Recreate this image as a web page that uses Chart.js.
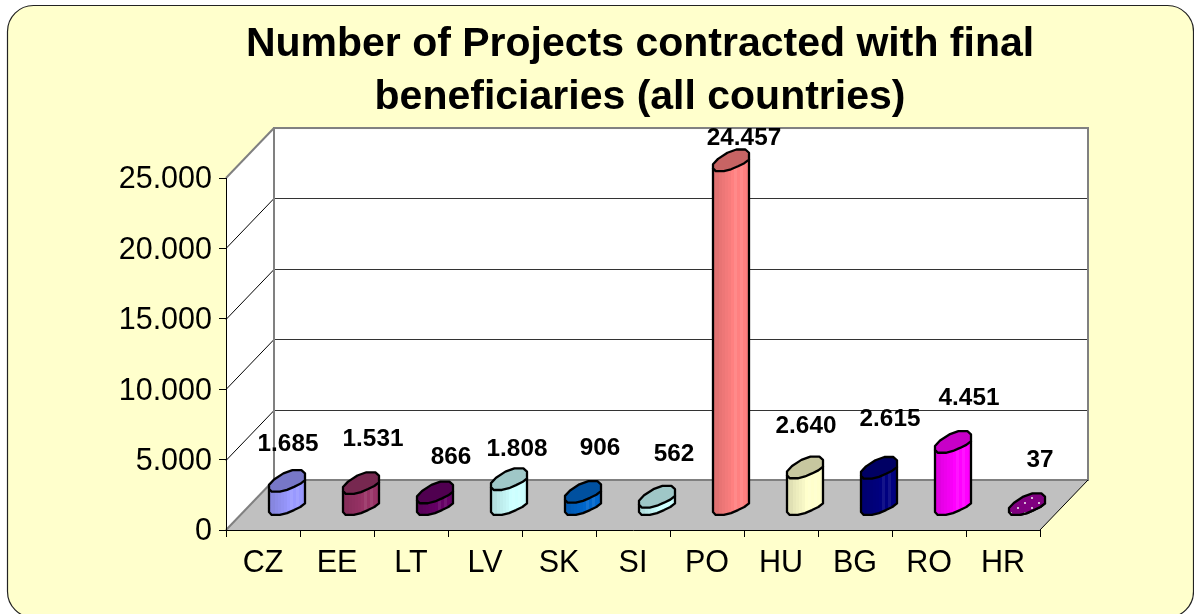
<!DOCTYPE html>
<html>
<head>
<meta charset="utf-8">
<title>Number of Projects</title>
<script src="https://cdn.jsdelivr.net/npm/chart.js@4/dist/chart.umd.min.js"></script>
<style>
  html, body { margin: 0; padding: 0; background: #fff; overflow: hidden; }
  canvas { display: block; }
</style>
</head>
<body>
<canvas id="chart" width="1194" height="614"></canvas>
<script>
const countries = ['CZ','EE','LT','LV','SK','SI','PO','HU','BG','RO','HR'];
const projects = [1685,1531,866,1808,906,562,24457,2640,2615,4451,37];
const barColors = ['#9999FF','#993366','#660066','#CCFFFF','#0066CC','#CCFFFF','#FF8080','#FFFFCC','#000080','#FF00FF','#800080'];
const titleLines = ['Number of Projects contracted with final','beneficiaries (all countries)'];
const yTicks = [0,5000,10000,15000,20000,25000];

// labels were moved by hand in the original, so they sit at their own offset from the bar top
const labelDx = [25,36,40,32,41,41,37,25,35,40,37];
const labelDy = [-62,-69,-61,-55,-69,-68,-47,-67,-74,-69,-69];

const FONT = '"Liberation Sans", Arial, sans-serif';
const DEPTH_X = 48, DEPTH_Y = 50;
const facets = [.88,.88,.91,.93,.95,.97,1,1.08,1,1.08,1,.98];
// outline of a cylinder end as seen in perspective, in half bar widths.
// points 0..6 are the lower edge from the right side to the left side
const capShape = [[1,-.06],[.74,.14],[.39,.31],[0,.48],[-.4,.58],[-.85,.58],[-1,.42],[-1,.2],[-.72,-.1],[-.2,-.44],[.3,-.62],[.8,-.62],[1,-.44]];

const fmt = v => Number(v).toLocaleString('de-DE');

function shade(hex, k){
  const n = parseInt(hex.slice(1),16);
  return 'rgb(' + [n>>16, (n>>8)&255, n&255].map(c => {
    const out = k <= 1 ? c*k : c + (255-c)*(k-1);
    return Math.round(out);
  }).join(',') + ')';
}

function dotPattern(ctx, hex){
  const c = document.createElement('canvas'); c.width = 14; c.height = 10;
  const p = c.getContext('2d');
  p.fillStyle = hex; p.fillRect(0,0,14,10);
  p.fillStyle = '#d9b8d9';
  p.fillRect(2,2,2,2); p.fillRect(9,7,2,2);
  return ctx.createPattern(c,'repeat');
}

function drawCylinder(ctx, bar, dotted){
  const hw = bar.width/2;
  const cx = bar.x + DEPTH_X/2, top = bar.y - DEPTH_Y/2, bottom = bar.base - DEPTH_Y/2;
  const color = bar.options.backgroundColor;
  const pt = (p,cy) => [cx + p[0]*hw, cy + p[1]*hw];

  // body: straight sides plus the lower edge of the base
  ctx.beginPath();
  ctx.moveTo(...pt(capShape[0],top));
  capShape.slice(0,7).forEach(p => ctx.lineTo(...pt(p,bottom)));
  ctx.lineTo(...pt(capShape[6],top));
  ctx.closePath();
  ctx.save();
  ctx.clip();
  const fw = bar.width/facets.length;
  facets.forEach((k,f) => {
    ctx.fillStyle = shade(color,k);
    ctx.fillRect(cx-hw+f*fw, top-hw, fw+.5, bottom-top+2*hw);
  });
  ctx.restore();
  ctx.stroke();

  // top cap
  ctx.beginPath();
  capShape.forEach(p => ctx.lineTo(...pt(p,top)));
  ctx.closePath();
  ctx.fillStyle = dotted ? dotPattern(ctx,color) : shade(color,.78);
  ctx.fill();
  ctx.stroke();
}

const scene = {
  id: 'scene',
  afterLayout(chart){
    // the original title sits right of the plot centre
    chart.titleBlock.left = 240;
    // value labels sit slightly lower than their ticks in the original
    chart.scales.y.drawLabels = function(area){
      this.ctx.save();
      this.ctx.translate(0,2);
      Chart.Scale.prototype.drawLabels.call(this,area);
      this.ctx.restore();
    };
  },
  beforeDraw(chart){
    const ctx = chart.ctx, {left,right,bottom,top} = chart.chartArea, y = chart.scales.y;
    const backL = left+DEPTH_X, backR = right+DEPTH_X, backB = bottom-DEPTH_Y, backT = top-DEPTH_Y;
    ctx.save();
    // panel
    ctx.beginPath();
    ctx.roundRect(7.5,5.5,1186,612,26);
    ctx.fillStyle = '#FFFFCC'; ctx.fill();
    ctx.strokeStyle = '#222'; ctx.lineWidth = 1.2; ctx.stroke();
    // walls
    ctx.fillStyle = '#fff';
    ctx.fillRect(backL,backT,backR-backL,backB-backT);
    ctx.beginPath();
    ctx.moveTo(left,bottom); ctx.lineTo(left,top); ctx.lineTo(backL,backT); ctx.lineTo(backL,backB);
    ctx.closePath(); ctx.fill();
    // floor
    ctx.beginPath();
    ctx.moveTo(left,bottom); ctx.lineTo(right,bottom); ctx.lineTo(backR,backB); ctx.lineTo(backL,backB);
    ctx.closePath();
    ctx.fillStyle = '#C0C0C0'; ctx.fill();
    // gridlines on the side wall and the back wall
    ctx.lineWidth = 1;
    yTicks.slice(1,-1).forEach(v => {
      const py = Math.round(y.getPixelForValue(v));
      ctx.strokeStyle = '#000';
      ctx.beginPath(); ctx.moveTo(left,py+.5); ctx.lineTo(backL,py-DEPTH_Y+.5); ctx.stroke();
      ctx.strokeStyle = '#333';
      ctx.beginPath(); ctx.moveTo(backL,py-DEPTH_Y+.5); ctx.lineTo(backR,py-DEPTH_Y+.5); ctx.stroke();
    });
    // wall edges
    ctx.strokeStyle = '#808080'; ctx.lineWidth = 2;
    ctx.strokeRect(backL,backT,backR-backL,backB-backT);
    ctx.beginPath(); ctx.moveTo(left,top); ctx.lineTo(backL,backT); ctx.stroke();
    ctx.beginPath(); ctx.moveTo(left,bottom); ctx.lineTo(backL,backB); ctx.stroke();
    ctx.strokeStyle = '#000'; ctx.lineWidth = 1;
    ctx.beginPath(); ctx.moveTo(right,bottom); ctx.lineTo(backR,backB); ctx.stroke();
    ctx.restore();
  },
  beforeDatasetDraw(chart,args){
    const ctx = chart.ctx;
    ctx.save();
    ctx.strokeStyle = '#000'; ctx.lineWidth = 2.3; ctx.lineJoin = 'round';
    args.meta.data.forEach((bar,i) => drawCylinder(ctx,bar,countries[i]==='HR'));
    ctx.restore();
    return false; // cylinders replace the flat bars
  },
  afterDatasetsDraw(chart){
    const ctx = chart.ctx;
    ctx.save();
    ctx.font = 'bold 24.3px ' + FONT;
    ctx.fillStyle = '#000'; ctx.textAlign = 'center'; ctx.textBaseline = 'middle';
    chart.getDatasetMeta(0).data.forEach((bar,i) => {
      ctx.fillText(fmt(projects[i]), bar.x+labelDx[i], bar.y+labelDy[i]);
    });
    ctx.restore();
  }
};

new Chart(document.getElementById('chart'), {
  type: 'bar',
  data: {
    labels: countries,
    datasets: [{ data: projects, backgroundColor: barColors, barThickness: 36 }]
  },
  plugins: [scene],
  options: {
    responsive: false,
    animation: false,
    layout: { padding: { left: 0, right: 154, top: 0, bottom: 0 } },
    plugins: {
      legend: { display: false },
      tooltip: { enabled: false },
      title: {
        display: true,
        text: titleLines,
        color: '#000',
        font: { family: FONT, size: 41, weight: 'bold', lineHeight: 1.293 },
        padding: { top: 18, bottom: 54 }
      }
    },
    scales: {
      x: {
        afterFit: s => { s.height = 84; },
        grid: { offset: true, drawOnChartArea: false, color: '#000', tickLength: 7 },
        border: { color: '#000' },
        ticks: { color: '#000', font: { family: FONT, size: 30.5 }, padding: 8, maxRotation: 0, autoSkip: false }
      },
      y: {
        min: 0, max: 25000,
        afterFit: s => { s.width = 226; },
        afterBuildTicks: s => { s.ticks = yTicks.map(value => ({value})); },
        grid: { drawOnChartArea: false, color: '#000', tickLength: 7 },
        border: { color: '#000' },
        ticks: { color: '#000', font: { family: FONT, size: 30.5 }, padding: 7, callback: v => fmt(v) }
      }
    }
  }
});
</script>
</body>
</html>
